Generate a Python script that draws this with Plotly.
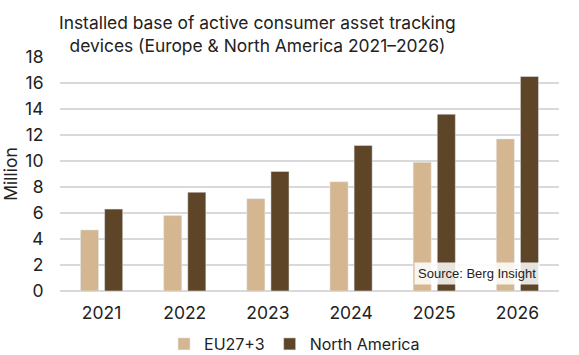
import plotly.graph_objects as go

years = ["2021", "2022", "2023", "2024", "2025", "2026"]
eu_values = [4.7, 5.8, 7.1, 8.4, 9.9, 11.7]
na_values = [6.3, 7.6, 9.2, 11.2, 13.6, 16.5]
series_names = ["EU27+3", "North America"]
y_ticks = [0, 2, 4, 6, 8, 10, 12, 14, 16, 18]
title_text = "Installed base of active consumer asset tracking<br>devices (Europe &amp; North America 2021–2026)"
source_text = "Source: Berg Insight"

FONT = "Inter"
PLOT_H = 355 - 57 - 64

fig = go.Figure()
fig.add_trace(go.Bar(x=years, y=eu_values, name=series_names[0], marker_color="#D4B690"))
fig.add_trace(go.Bar(x=years, y=na_values, name=series_names[1], marker_color="#5F4527"))

fig.update_layout(
    width=579, height=355,
    margin=dict(l=60, r=20, t=57, b=64, autoexpand=False),
    paper_bgcolor="white", plot_bgcolor="white",
    barmode="group", bargap=0.42, bargroupgap=0.25,
    font=dict(family=FONT, size=16, color="#222222"),
    legend=dict(orientation="h", x=0.47, xanchor="center", y=-53 / PLOT_H, yanchor="middle",
                font=dict(size=16), itemwidth=30, traceorder="normal"),
    xaxis=dict(showgrid=False, showline=False, ticks="outside", ticklen=6, tickcolor="rgba(0,0,0,0)",
               tickfont=dict(size=17.5)),
    yaxis=dict(range=[0, 18], tickvals=y_ticks, showgrid=True, gridcolor="#D9D9D9", gridwidth=1.5,
               zeroline=True, zerolinecolor="#D9D9D9", zerolinewidth=1.5,
               ticks="outside", ticklen=12, tickcolor="rgba(0,0,0,0)", tickfont=dict(size=17.5),
               title=dict(text="Million", font=dict(size=17.5), standoff=4)),
)

fig.add_annotation(
    text=title_text, xref="paper", yref="paper", x=(257 - 60) / 499, y=1 - 1 / PLOT_H,
    xanchor="center", yanchor="bottom", showarrow=False, align="center",
    font=dict(family=FONT, size=17.4, color="#222222"),
)

fig.add_annotation(
    text=source_text, xref="paper", yref="paper", x=0.962, y=0.025,
    xanchor="right", yanchor="bottom", showarrow=False,
    font=dict(family="Liberation Sans, Arial", size=13, color="#222222"),
    bgcolor="rgba(255,255,255,0.85)", borderpad=3,
)

fig.write_html("out.html", config={"displayModeBar": False},
               post_script="document.body.style.margin='0';")
